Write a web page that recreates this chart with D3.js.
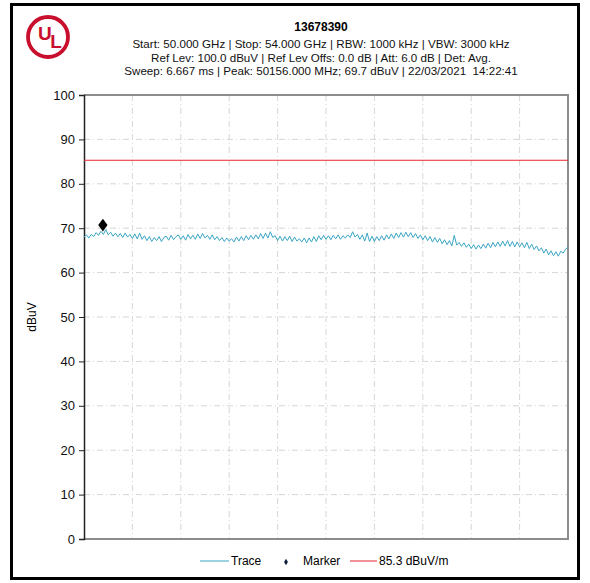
<!DOCTYPE html>
<html>
<head>
<meta charset="utf-8">
<script src="https://cdn.jsdelivr.net/npm/d3@7"></script>
<style>
  body { margin: 0; background: #fff; }
  svg { font-family: "Liberation Sans", Arial, sans-serif; }
</style>
</head>
<body>
<svg id="canvas" width="590" height="583"></svg>
<script>
// header text
let title = '13678390'
let infoLines = [
    'Start: 50.000 GHz | Stop: 54.000 GHz | RBW: 1000 kHz | VBW: 3000 kHz',
    'Ref Lev: 100.0 dBuV | Ref Lev Offs: 0.0 dB | Att: 6.0 dB | Det: Avg.',
    'Sweep: 6.667 ms | Peak: 50156.000 MHz; 69.7 dBuV | 22/03/2021  14:22:41'
]

// sweep range (GHz) and trace levels (dBuV), one every 20 MHz
let startFreq = 50.0
let stopFreq = 54.0
let traceLevels = [
    68.0, 68.5, 67.8, 68.6, 68.1, 69.0, 68.4, 69.3, 68.6, 69.7,
    68.5, 69.1, 68.2, 68.9, 68.1, 68.8, 67.9, 68.9, 68.0, 68.6,
    67.7, 68.7, 67.6, 68.9, 67.5, 68.3, 67.2, 68.1, 67.0, 67.9,
    67.2, 68.1, 67.0, 67.9, 68.2, 67.3, 68.4, 67.4, 68.1, 68.5,
    67.5, 68.3, 67.3, 68.6, 67.6, 68.4, 67.5, 68.7, 67.7, 68.8,
    67.8, 68.4, 67.5, 68.5, 67.4, 68.1, 67.2, 67.9, 67.0, 67.8,
    67.1, 67.6, 66.9, 68.0, 67.1, 68.1, 67.2, 68.3, 67.4, 68.4,
    67.5, 68.5, 67.6, 68.8, 67.7, 68.9, 67.8, 69.2, 67.9, 68.3,
    67.2, 68.2, 67.1, 68.1, 67.2, 68.2, 67.0, 68.0, 67.1, 67.6,
    66.9, 67.8, 66.7, 67.8, 66.9, 68.1, 67.0, 68.3, 67.4, 68.4,
    67.5, 68.3, 67.4, 68.4, 67.6, 68.5, 67.5, 68.3, 67.8, 68.5,
    67.9, 69.2, 68.0, 68.6, 67.5, 68.5, 67.1, 68.9, 67.0, 68.2,
    67.0, 68.1, 67.2, 68.3, 67.3, 68.5, 67.6, 68.7, 67.7, 68.9,
    67.9, 69.0, 68.0, 69.1, 68.1, 69.0, 67.9, 68.8, 67.7, 68.5,
    67.4, 68.3, 67.2, 68.1, 66.9, 67.9, 66.8, 67.7, 66.5, 67.4,
    66.3, 67.2, 66.0, 68.4, 66.2, 66.8, 65.9, 66.7, 65.7, 66.4,
    65.4, 66.3, 65.3, 66.2, 65.4, 66.4, 65.5, 66.6, 65.6, 66.8,
    65.8, 66.9, 65.9, 67.1, 66.0, 67.2, 65.9, 67.0, 65.8, 66.9,
    65.8, 66.7, 65.6, 66.8, 65.4, 66.4, 65.2, 66.0, 64.9, 65.6,
    64.4, 65.3, 64.0, 64.9, 63.8, 64.7, 63.7, 64.8, 64.4, 65.3,
    65.7
]
let freqStep = (stopFreq - startFreq) / (traceLevels.length - 1)

// marker and limit
let markerFreq = 50.156
let markerLevel = 70.7
let limitLevel = 85.3

let yTicks = [0, 10, 20, 30, 40, 50, 60, 70, 80, 90, 100]
let xGrid = [50.4, 50.8, 51.2, 51.6, 52.0, 52.4, 52.8, 53.2, 53.6]

let traceColor = '#3aa5c4'
let limitColor = '#e8262e'
let ulRed = '#c8102e'

let canvas = d3.select('#canvas')

// outer frame
canvas.append('rect')
    .attr('x', 11.5).attr('y', 4.5)
    .attr('width', 567).attr('height', 574)
    .attr('fill', 'none')
    .attr('stroke', '#000')
    .attr('stroke-width', 3)

// UL logo: one text, L set lower and to the right of U
let logo = canvas.append('g').attr('transform', 'translate(48,37)')
logo.append('circle')
    .attr('r', 20)
    .attr('fill', 'none')
    .attr('stroke', ulRed)
    .attr('stroke-width', 3.8)
let ulText = logo.append('text')
    .attr('x', -10).attr('y', 3)
    .attr('font-size', 19)
    .attr('font-weight', 'bold')
    .attr('font-family', '"Liberation Sans Narrow", "Liberation Sans", Arial, sans-serif')
    .attr('fill', ulRed)
ulText.append('tspan').text('U')
ulText.append('tspan').attr('dx', -1.5).attr('dy', 8).text('L')

// header
canvas.append('text')
    .attr('x', 321).attr('y', 31)
    .attr('text-anchor', 'middle')
    .attr('font-size', 12)
    .attr('font-weight', 'bold')
    .text(title)

canvas.selectAll('text.info')
    .data(infoLines)
    .enter()
    .append('text')
    .attr('class', 'info')
    .attr('x', 321)
    .attr('y', (d, i) => 48 + i * 13.5)
    .attr('text-anchor', 'middle')
    .attr('font-size', 11.6)
    .attr('fill', '#111')
    .style('white-space', 'pre')
    .text(d => d)

// plot area
let plotLeft = 84, plotRight = 568, plotTop = 95, plotBottom = 539

let xScale = d3.scaleLinear().domain([startFreq, stopFreq]).range([plotLeft, plotRight])
let yScale = d3.scaleLinear().domain([0, 100]).range([plotBottom, plotTop])

// grid
canvas.selectAll('line.hgrid')
    .data(yTicks.filter(d => d > 0 && d < 100))
    .enter()
    .append('line')
    .attr('class', 'hgrid')
    .attr('x1', plotLeft).attr('x2', plotRight)
    .attr('y1', d => yScale(d)).attr('y2', d => yScale(d))
    .attr('stroke', '#d6d6d6')
    .attr('stroke-dasharray', '6,3,1,3')

canvas.selectAll('line.vgrid')
    .data(xGrid)
    .enter()
    .append('line')
    .attr('class', 'vgrid')
    .attr('x1', d => xScale(d)).attr('x2', d => xScale(d))
    .attr('y1', plotTop).attr('y2', plotBottom)
    .attr('stroke', '#d6d6d6')
    .attr('stroke-dasharray', '6,3,1,3')

// frame of the plot (top, right, bottom)
canvas.append('path')
    .attr('d', `M${plotLeft},${plotTop}H${plotRight}V${plotBottom}H${plotLeft}`)
    .attr('fill', 'none')
    .attr('stroke', '#8c8c8c')
    .attr('stroke-width', 2)

// y axis
let yAxis = d3.axisLeft(yScale)
    .tickValues(yTicks)
    .tickSize(5)
    .tickPadding(4)

let yAxisG = canvas.append('g')
    .attr('transform', `translate(${plotLeft},0)`)
    .call(yAxis)
yAxisG.select('.domain').attr('stroke', '#222').attr('stroke-width', 1.5)
yAxisG.selectAll('.tick line').attr('stroke', '#222')
yAxisG.selectAll('.tick text')
    .attr('font-size', 13)
    .attr('font-family', '"Liberation Sans", Arial, sans-serif')
    .attr('fill', '#111')

canvas.append('text')
    .attr('transform', 'translate(36,' + ((plotTop + plotBottom) / 2) + ') rotate(-90)')
    .attr('text-anchor', 'middle')
    .attr('font-size', 12)
    .text('dBuV')

// limit line
canvas.append('line')
    .attr('x1', plotLeft).attr('x2', plotRight)
    .attr('y1', yScale(limitLevel)).attr('y2', yScale(limitLevel))
    .attr('stroke', limitColor)
    .attr('stroke-width', 1.2)

// trace
let line = d3.line()
    .x((d, i) => xScale(startFreq + i * freqStep))
    .y(d => yScale(d))

canvas.append('path')
    .datum(traceLevels)
    .attr('d', line)
    .attr('fill', 'none')
    .attr('stroke', traceColor)
    .attr('stroke-width', 1)

// marker
canvas.append('path')
    .attr('d', d3.symbol().type(d3.symbolDiamond).size(48))
    .attr('transform', `translate(${xScale(markerFreq)},${yScale(markerLevel)}) scale(1.25,1)`)
    .attr('fill', '#000')

// legend
let legend = canvas.append('g').attr('transform', 'translate(0,561)')
legend.append('line')
    .attr('x1', 200).attr('x2', 229)
    .attr('stroke', traceColor)
legend.append('text')
    .attr('x', 231).attr('y', 4)
    .attr('font-size', 12)
    .text('Trace')
legend.append('path')
    .attr('d', d3.symbol().type(d3.symbolDiamond).size(12))
    .attr('transform', 'translate(286,1)')
    .attr('fill', '#0a1a3a')
legend.append('text')
    .attr('x', 303).attr('y', 4)
    .attr('font-size', 12)
    .text('Marker')
legend.append('line')
    .attr('x1', 350).attr('x2', 377)
    .attr('stroke', limitColor)
legend.append('text')
    .attr('x', 379).attr('y', 4)
    .attr('font-size', 12)
    .text('85.3 dBuV/m')
</script>
</body>
</html>
